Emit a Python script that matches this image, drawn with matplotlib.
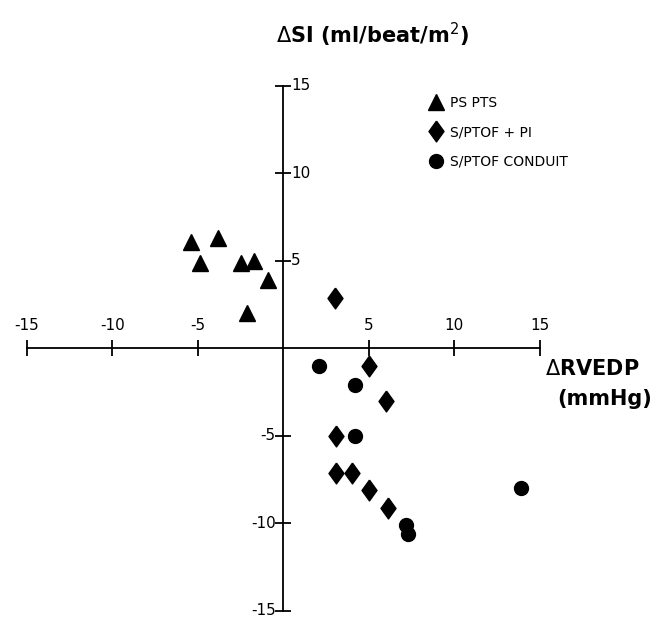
import numpy as np
import matplotlib.pyplot as plt

# PS PTS (triangles)
ps_x = [-5.4, -3.8, -4.9, -2.5, -1.7, -0.9, -2.1]
ps_y = [6.1, 6.3, 4.9, 4.9, 5.0, 3.9, 2.0]

# S/PTOF + PI (diamonds)
pi_x = [3.0, 5.0, 6.0, 3.1, 3.1, 4.0, 5.0, 6.1]
pi_y = [2.9, -1.0, -3.0, -5.0, -7.1, -7.1, -8.1, -9.1]

# S/PTOF CONDUIT (circles)
co_x = [2.1, 4.2, 4.2, 7.2, 7.3, 13.9]
co_y = [-1.0, -2.1, -5.0, -10.1, -10.6, -8.0]

ticks = [-15, -10, -5, 5, 10, 15]

# diamond a bit wider than matplotlib's thin 'd'
diamond = [(0, 1), (0.72, 0), (0, -1), (-0.72, 0), (0, 1)]

fig = plt.figure(figsize=(6.54, 6.18), dpi=100)
ax = fig.add_axes([0, 0, 1, 1])
ax.set_xlim(-16.57, 21.68)
ax.set_ylim(-15.41, 19.90)

for s in ['top', 'right']:
    ax.spines[s].set_visible(False)
ax.spines['left'].set_position(('data', 0))
ax.spines['bottom'].set_position(('data', 0))
ax.spines['left'].set_bounds(-15, 15)
ax.spines['bottom'].set_bounds(-15, 15)
ax.spines['left'].set_linewidth(1.3)
ax.spines['bottom'].set_linewidth(1.3)
ax.set_xticks(ticks)
ax.set_yticks(ticks)
ax.tick_params(direction='inout', length=12, width=1.3, labelleft=False, labelbottom=False)

for t in ticks:
    ax.text(t, 0.9, '%d' % t, ha='center', va='bottom', fontsize=11)
    if t > 0:
        ax.text(0.45, t, '%d' % t, ha='left', va='center', fontsize=11)
    else:
        ax.text(-0.45, t, '%d' % t, ha='right', va='center', fontsize=11)

ax.plot(ps_x, ps_y, '^', color='black', ms=11, label='PS PTS')
ax.plot(pi_x, pi_y, marker=diamond, ls='none', color='black', ms=15, label='S/PTOF + PI')
ax.plot(co_x, co_y, 'o', color='black', ms=10, label='S/PTOF CONDUIT')

ax.legend(loc='upper left', bbox_to_anchor=(0.635, 0.865), frameon=False,
          handletextpad=0.4, labelspacing=1.1, fontsize=10, handlelength=1.2)

fig.text(0.57, 0.943, r'$\Delta$SI (ml/beat/m$^2$)', ha='center', va='center',
         fontsize=15, fontweight='bold')
ax.text(15.3, -1.2, r'$\Delta$RVEDP', ha='left', va='center', fontsize=15, fontweight='bold')
ax.text(16.0, -2.9, '(mmHg)', ha='left', va='center', fontsize=15, fontweight='bold')

fig.savefig('out.png', dpi=100)
